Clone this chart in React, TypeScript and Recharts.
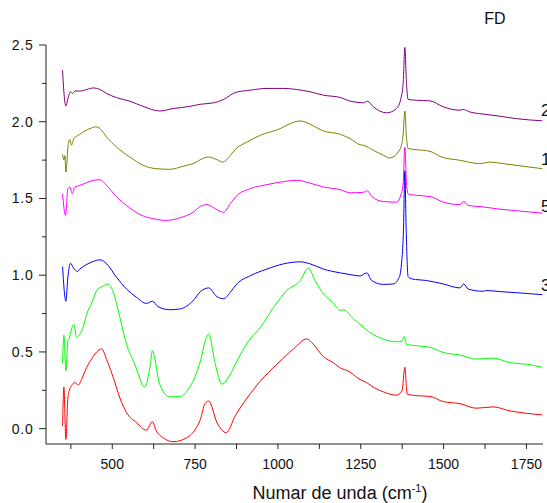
import React from 'react';
import { LineChart, Line, XAxis, YAxis } from 'recharts';

type P = [number, number];

const purple: P[] = [[350,2.336],[354,2.195],[360,2.103],[367.5,2.162],[374,2.195],[380,2.184],[387,2.2],[402,2.2],[423,2.21],[443,2.22],[463,2.21],[483,2.184],[513,2.157],[553,2.134],[593,2.1],[643,2.07],[684,2.086],[734,2.1],[766,2.114],[806,2.123],[836,2.145],[871,2.19],[917,2.206],[967,2.217],[1017,2.217],[1057,2.21],[1097,2.195],[1137,2.173],[1188,2.158],[1218,2.134],[1248,2.125],[1258,2.123],[1270,2.134],[1288,2.097],[1328,2.058],[1358,2.086],[1372,2.16],[1378,2.25],[1383,2.485],[1388,2.25],[1393,2.145],[1419,2.14],[1459,2.136],[1499,2.097],[1549,2.075],[1559,2.08],[1579,2.064],[1619,2.05],[1670,2.036],[1720,2.02],[1798,2.006]];

const olive: P[] = [[350,1.788],[354,1.75],[357,1.78],[360,1.672],[367.5,1.858],[372,1.884],[377,1.847],[384,1.89],[392.5,1.905],[402,1.918],[417.5,1.94],[432.5,1.955],[450.6,1.967],[463,1.955],[483,1.9],[513,1.835],[553,1.77],[593,1.716],[633,1.694],[673.5,1.69],[714,1.71],[754,1.737],[766,1.753],[791,1.77],[816,1.753],[834,1.737],[856,1.78],[874,1.825],[907,1.868],[947,1.912],[1007,1.955],[1037,1.988],[1067,2.005],[1097,1.984],[1137,1.94],[1188,1.918],[1218,1.89],[1248,1.85],[1258,1.847],[1288,1.814],[1318,1.782],[1338,1.764],[1363,1.803],[1372,1.84],[1378,1.92],[1383,2.069],[1388,1.9],[1393,1.825],[1419,1.818],[1459,1.807],[1494,1.77],[1549,1.749],[1609,1.727],[1639,1.737],[1680,1.727],[1740,1.71],[1798,1.694]];

const magenta: P[] = [[350,1.53],[359,1.39],[366,1.564],[372,1.575],[379.5,1.53],[387,1.575],[402,1.585],[423,1.603],[443,1.618],[463,1.622],[483,1.585],[513,1.51],[543,1.455],[583,1.396],[623.5,1.368],[663.5,1.357],[704,1.374],[744,1.41],[766,1.448],[786,1.46],[811,1.433],[836,1.41],[856,1.466],[876.5,1.52],[917,1.564],[967,1.59],[1017,1.61],[1057,1.618],[1097,1.6],[1137,1.575],[1188,1.557],[1218,1.537],[1258,1.54],[1270,1.55],[1283,1.513],[1318,1.48],[1358,1.476],[1372,1.53],[1378,1.6],[1383,1.835],[1388,1.6],[1393,1.53],[1419,1.52],[1459,1.513],[1499,1.476],[1549,1.46],[1561,1.48],[1574,1.455],[1619,1.445],[1670,1.43],[1720,1.42],[1798,1.404]];

const blue: P[] = [[350,1.056],[360,0.83],[366,0.986],[374,1.078],[382.5,1.048],[394.6,1.025],[402,1.04],[423,1.07],[443,1.09],[463,1.1],[483,1.074],[513,0.986],[543,0.91],[573,0.856],[603,0.816],[621,0.83],[638.5,0.795],[673.5,0.775],[704,0.78],[744,0.834],[766,0.893],[791,0.917],[816,0.86],[836,0.847],[856,0.888],[876,0.943],[917,0.997],[967,1.04],[1017,1.074],[1067,1.087],[1097,1.074],[1137,1.04],[1188,1.015],[1218,1.004],[1248,0.995],[1268,1.015],[1283,0.965],[1318,0.94],[1348,0.943],[1366,0.986],[1374,1.1],[1379,1.3],[1383,1.68],[1387,1.3],[1393,0.99],[1404,0.976],[1449,0.965],[1499,0.943],[1549,0.917],[1561,0.943],[1574,0.91],[1619,0.895],[1629,0.9],[1670,0.893],[1720,0.886],[1798,0.873]];

const green: P[] = [[350,0.425],[354,0.61],[360,0.377],[366,0.57],[370.5,0.59],[377,0.65],[384,0.68],[392.5,0.595],[402,0.615],[413,0.67],[423,0.747],[438,0.82],[453,0.9],[473,0.93],[488,0.943],[503,0.89],[523,0.725],[543,0.55],[568,0.42],[598,0.27],[615,0.42],[621,0.51],[628,0.46],[643,0.29],[673,0.207],[704,0.21],[734,0.27],[766,0.44],[784,0.595],[791,0.616],[811,0.42],[831,0.29],[856,0.355],[876,0.44],[911,0.57],[947,0.66],[987,0.79],[1027,0.9],[1067,0.965],[1092,1.047],[1112,0.965],[1142,0.867],[1167,0.82],[1188,0.77],[1198,0.775],[1228,0.715],[1248,0.68],[1258,0.66],[1288,0.613],[1318,0.584],[1358,0.566],[1375,0.57],[1381,0.6],[1388,0.55],[1419,0.54],[1459,0.53],[1499,0.496],[1549,0.48],[1599,0.453],[1649,0.46],[1700,0.43],[1750,0.42],[1798,0.4]];

const red: P[] = [[350,0.017],[354,0.27],[360,-0.07],[366,0.2],[370,0.246],[377,0.28],[387,0.3],[398,0.285],[408,0.325],[423,0.4],[438,0.455],[453,0.5],[468,0.52],[483,0.45],[503,0.333],[523,0.2],[543,0.105],[573,0.04],[603,-0.01],[621,0.045],[633,-0.015],[654,-0.06],[684,-0.085],[724,-0.06],[754,0.007],[766,0.06],[779,0.16],[791,0.18],[816,0.04],[844,-0.026],[871,0.083],[907,0.2],[947,0.31],[997,0.42],[1047,0.52],[1087,0.585],[1107,0.55],[1137,0.47],[1167,0.43],[1193,0.39],[1208,0.38],[1248,0.32],[1268,0.3],[1288,0.27],[1318,0.24],[1358,0.218],[1375,0.25],[1383,0.4],[1390,0.225],[1419,0.215],[1459,0.21],[1499,0.176],[1549,0.163],[1599,0.133],[1649,0.142],[1700,0.116],[1750,0.1],[1798,0.09]];

const xTicks = [375, 500, 625, 750, 875, 1000, 1125, 1250, 1375, 1500, 1625, 1750];
const xLabelTicks = [500, 750, 1000, 1250, 1500, 1750];
const yTicks = [0, 0.25, 0.5, 0.75, 1, 1.25, 1.5, 1.75, 2, 2.25, 2.5];
const yLabelTicks = [0, 0.5, 1, 1.5, 2, 2.5];
const seriesNames = ['2', '1', '5', '3'];
const title = 'FD';

const series = [
  { key: 'purple', data: purple, color: '#800080' },
  { key: 'olive', data: olive, color: '#808000' },
  { key: 'magenta', data: magenta, color: '#FF00FF' },
  { key: 'blue', data: blue, color: '#0000FF' },
  { key: 'green', data: green, color: '#00FF00' },
  { key: 'red', data: red, color: '#FF0000' },
];

const FONT = "Arial, 'Liberation Sans', sans-serif";
const AXIS = '#222';

const XTick = (props: any) => {
  const { x, y, payload } = props;
  const v = payload.value;
  const major = xLabelTicks.includes(v);
  return (
    <g>
      <line x1={x} x2={x} y1={y} y2={y + 5} stroke={AXIS} strokeWidth={1} />
      {major && (
        <text x={x} y={y + 25} textAnchor="middle" fontSize={14} fontFamily={FONT} fill="#111">
          {String(v)}
        </text>
      )}
    </g>
  );
};

const YTick = (props: any) => {
  const { x, y, payload } = props;
  const v = payload.value;
  const major = yLabelTicks.includes(v);
  return (
    <g>
      <line x1={x - (major ? 7 : 4)} x2={x} y1={y} y2={y} stroke={AXIS} strokeWidth={1} />
      {major && (
        <text x={x - 12.5} y={y + 5} textAnchor="end" fontSize={14} letterSpacing={0.8} fontFamily={FONT} fill="#111">
          {v.toFixed(1)}
        </text>
      )}
    </g>
  );
};

const labelPos = [110, 159, 206, 285];

export default function App() {
  return (
    <div style={{ position: 'absolute', left: 0, top: 0, width: 547, height: 503, overflow: 'hidden', background: '#fff', fontFamily: FONT }}>
      <LineChart width={547} height={503} margin={{ top: 45, right: 4, bottom: 29, left: 0 }}>
        <XAxis
          type="number"
          dataKey="x"
          domain={[300, 1800]}
          ticks={xTicks}
          interval={0}
          allowDataOverflow
          height={30}
          tickSize={0}
          tickMargin={0}
          tickLine={false}
          axisLine={{ stroke: AXIS, strokeWidth: 1 }}
          tick={<XTick />}
        />
        <YAxis
          type="number"
          domain={[-0.1, 2.5]}
          ticks={yTicks}
          interval={0}
          allowDataOverflow
          width={46}
          tickSize={0}
          tickMargin={0}
          tickLine={false}
          axisLine={{ stroke: AXIS, strokeWidth: 1 }}
          tick={<YTick />}
        />
        {series.map((s) => (
          <Line
            key={s.key}
            data={s.data.map(([x, y]) => ({ x, y }))}
            dataKey="y"
            type="monotone"
            stroke={s.color}
            strokeWidth={1}
            dot={false}
            activeDot={false}
            isAnimationActive={false}
          />
        ))}
      </LineChart>
      <div style={{ position: 'absolute', left: 495, top: 19, transform: 'translate(-50%,-50%)', fontSize: 16, lineHeight: 1, color: '#111' }}>{title}</div>
      {seriesNames.map((n, i) => (
        <div key={n} style={{ position: 'absolute', left: 541, top: labelPos[i], transform: 'translateY(-50%)', fontSize: 17, lineHeight: 1, color: '#111' }}>{n}</div>
      ))}
      <div style={{ position: 'absolute', left: 340, top: 492, transform: 'translate(-50%,-50%)', fontSize: 18, lineHeight: 1, color: '#111', whiteSpace: 'nowrap' }}>
        Numar de unda (cm<sup style={{ fontSize: 11 }}>-1</sup>)
      </div>
    </div>
  );
}
